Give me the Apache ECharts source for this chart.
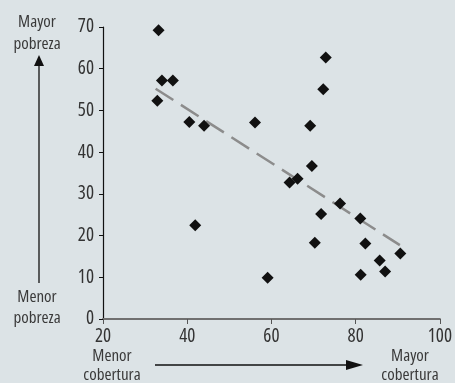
<!DOCTYPE html>
<html><head><meta charset="utf-8">
<script src="https://cdn.jsdelivr.net/npm/echarts@6/dist/echarts.min.js"></script>
<style>html,body{margin:0;padding:0;background:#dce3e6}#c{width:455px;height:383px}</style>
</head><body><div id="c"></div>
<script>
const coverage = [33.2,34.0,36.6,32.9,72.9,72.3,40.5,44.0,56.1,69.2,69.6,64.3,66.2,76.3,71.8,81.1,70.3,82.3,90.6,85.7,87.0,81.2,59.1,41.9];
const poverty  = [69.2,57.2,57.2,52.3,62.7,55.1,47.2,46.3,47.1,46.3,36.7,32.7,33.6,27.7,25.2,24.1,18.3,18.1,15.7,14.0,11.4,10.6,9.9,22.5];
const trendX = [32.5, 90.5];
const trendY = [55.2, 17.7];
const xTicks = [20,40,60,80,100];
const yTicks = [0,10,20,30,40,50,60,70];

const FAM = '"Open Sans",sans-serif';
const LBL = 'condensed 17px ' + FAM;
const chart = echarts.init(document.getElementById('c'));
const pts = coverage.map((x,i)=>[x,poverty[i]]);
const trend = trendX.map((x,i)=>[x,trendY[i]]);
const t = (s,x,y)=>({type:'text',x:x,y:y,style:{text:s,font:LBL,fill:'#3a3a3a',align:'center',verticalAlign:'middle'}});
chart.setOption({
  backgroundColor:'#dce3e6',
  animation:false,
  grid:{left:103,right:12,top:27,bottom:64},
  xAxis:{type:'value',min:xTicks[0],max:xTicks[xTicks.length-1],interval:20,
    axisLine:{lineStyle:{color:'#707070',width:2}},
    axisTick:{show:true,length:5,lineStyle:{color:'#555',width:1}},
    splitLine:{show:false},
    axisLabel:{fontFamily:FAM,fontStyle:'condensed',fontSize:19,color:'#333',margin:8}},
  yAxis:{type:'value',min:yTicks[0],max:yTicks[yTicks.length-1],interval:10,
    axisLine:{show:true,lineStyle:{color:'#111',width:1.2}},
    axisTick:{show:true,length:4,lineStyle:{color:'#111'}},
    splitLine:{show:false},
    axisLabel:{fontFamily:FAM,fontStyle:'condensed',fontSize:19,color:'#333',margin:9}},
  series:[
    {type:'line',data:trend,symbol:'none',z:1,
      lineStyle:{color:'#8c8c8c',width:2.5,type:[21,9]}},
    {type:'scatter',data:pts,symbol:'diamond',symbolSize:12,z:2,
      itemStyle:{color:'#111',opacity:1}}
  ],
  graphic:[
    t('Mayor',37,22), t('pobreza',37,44),
    {type:'line',shape:{x1:39,y1:64,x2:39,y2:283},style:{stroke:'#111',lineWidth:1.3}},
    {type:'polygon',shape:{points:[[39,55],[34,66],[44,66]]},style:{fill:'#111'}},
    t('Menor',37,297), t('pobreza',37,318),
    t('Menor',112,356), t('cobertura',112,375),
    {type:'line',shape:{x1:155,y1:365,x2:350,y2:365},style:{stroke:'#111',lineWidth:1.3}},
    {type:'polygon',shape:{points:[[363,365],[346,360],[346,370]]},style:{fill:'#111'}},
    t('Mayor',410,356), t('cobertura',410,375)
  ]
});
</script></body></html>
